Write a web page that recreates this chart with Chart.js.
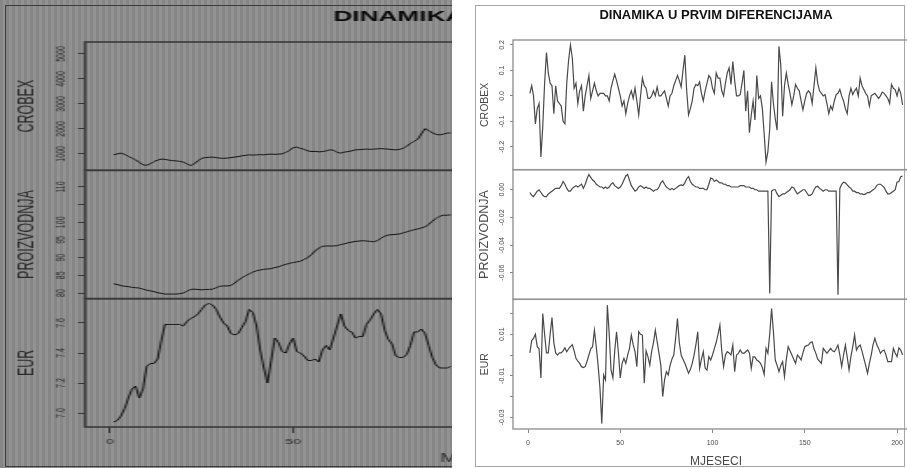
<!DOCTYPE html>
<html>
<head>
<meta charset="utf-8">
<script src="https://cdn.jsdelivr.net/npm/chart.js@4.4.1/dist/chart.umd.min.js"></script>
<style>
  html, body { margin: 0; padding: 0; background: #fff; }
  body { width: 907px; height: 468px; position: relative; overflow: hidden; }
  #levels { position: absolute; left: 0; top: 0; width: 452px; height: 468px; overflow: hidden;
    background: repeating-linear-gradient(90deg, #868686 0px, #868686 3px, #929292 3px, #929292 6px); }
  #levels canvas { position: absolute; left: 0; top: 0; transform: scaleX(1.75); transform-origin: 0 0; }
  #levels-frame { position: absolute; left: 5px; top: 5px; width: 520px; height: 462px; box-sizing: border-box; border: 1.5px solid #3c3c3c; }
  #diffs { position: absolute; left: 460px; top: 0; width: 447px; height: 468px; overflow: hidden; }
  #diffs canvas { position: absolute; left: 10px; top: 0; }
  #diffs-frame { position: absolute; left: 15px; top: 5px; width: 430px; height: 462px; box-sizing: border-box; border: 1.5px solid #a6a6a6; }
</style>
</head>
<body>
<div id="levels">
  <canvas id="levels-chart" width="555" height="468"></canvas>
  <div id="levels-frame"></div>
</div>
<div id="diffs">
  <div id="diffs-frame"></div>
  <canvas id="diffs-chart" width="492" height="468"></canvas>
</div>
<script>
// levels (left panel, only months 1-93 are visible in the picture)
const levelCrobex = [
  960, 1000, 1030, 980, 900, 830, 760, 660, 560, 540,
  600, 690, 750, 790, 780, 750, 730, 720, 700, 670,
  600, 530, 600, 720, 820, 850, 860, 870, 850, 830,
  820, 830, 850, 870, 890, 920, 940, 960, 950, 960,
  970, 960, 980, 990, 980, 990, 1000, 1060, 1130, 1250,
  1270, 1220, 1180, 1120, 1090, 1100, 1080, 1090, 1120, 1160,
  1150, 1060, 1030, 1070, 1090, 1120, 1160, 1170, 1180, 1190,
  1180, 1190, 1200, 1210, 1200, 1190, 1170, 1160, 1180, 1220,
  1300, 1420, 1500, 1580, 1800, 2010, 1940, 1840, 1780, 1760,
  1790, 1830, 1840
]
const levelProizvodnja = [
  82.6, 82.4, 82.1, 81.9, 81.8, 81.6, 81.5, 81.4, 81.1, 80.8,
  80.6, 80.4, 80.1, 79.9, 79.7, 79.7, 79.7, 79.7, 79.8, 80.0,
  80.5, 81.0, 81.1, 81.0, 80.9, 81.0, 81.0, 81.1, 81.5, 81.9,
  82.0, 82.0, 82.1, 82.8, 83.6, 84.3, 84.9, 85.4, 85.9, 86.3,
  86.5, 86.7, 86.8, 86.9, 87.2, 87.4, 87.8, 88.1, 88.4, 88.6,
  88.8, 89.0, 89.5, 90.0, 90.9, 91.9, 92.7, 93.2, 93.3, 93.3,
  93.3, 93.4, 93.7, 93.9, 94.2, 94.4, 94.6, 94.7, 94.8, 94.7,
  94.6, 94.5, 94.8, 95.5, 96.1, 96.4, 96.5, 96.6, 96.7, 97.0,
  97.3, 97.6, 97.9, 98.1, 98.4, 98.7, 99.4, 100.3, 101.1, 101.7,
  102.0, 102.0, 102.1
]
const levelEur = [
  6.94, 6.95, 6.98, 7.03, 7.10, 7.16, 7.18, 7.10, 7.16, 7.31,
  7.33, 7.33, 7.36, 7.48, 7.59, 7.59, 7.59, 7.59, 7.59, 7.58,
  7.61, 7.63, 7.64, 7.66, 7.69, 7.72, 7.73, 7.72, 7.69, 7.64,
  7.60, 7.58, 7.53, 7.52, 7.53, 7.57, 7.61, 7.69, 7.67, 7.58,
  7.42, 7.30, 7.20, 7.35, 7.50, 7.47, 7.41, 7.40, 7.46, 7.50,
  7.41, 7.40, 7.38, 7.35, 7.35, 7.36, 7.34, 7.42, 7.45, 7.42,
  7.50, 7.58, 7.66, 7.58, 7.55, 7.54, 7.50, 7.51, 7.51, 7.59,
  7.62, 7.66, 7.69, 7.66, 7.55, 7.49, 7.46, 7.38, 7.37, 7.37,
  7.39, 7.45, 7.54, 7.54, 7.56, 7.53, 7.45, 7.37, 7.32, 7.30,
  7.30, 7.30, 7.31
]

// first differences (right panel)
const diffCrobex = [
  0.01, 0.04, 0.0, -0.11, -0.05, -0.03, -0.24, -0.12, 0.05, 0.17,
  0.09, 0.05, 0.04, -0.07, 0.04, -0.02, -0.03, -0.04, -0.10, -0.11,
  0.05, 0.14, 0.20, 0.15, 0.03, 0.05, -0.03, 0.02, 0.04, -0.06,
  0.0, 0.04, 0.08, -0.01, 0.02, 0.05, 0.02, 0.0, 0.01, 0.01,
  0.01, 0.0, 0.0, -0.02, 0.03, 0.06, 0.085, 0.06, 0.03, 0.0,
  -0.04, -0.02, -0.07, -0.03, 0.0, 0.02, -0.01, 0.03, -0.02, -0.075,
  0.0, 0.07, 0.04, 0.03, -0.01, -0.01, 0.0, 0.02, 0.0, 0.035,
  0.0, 0.0, 0.01, 0.02, -0.01, -0.04, 0.0, 0.01, 0.04, 0.06,
  0.08, 0.06, 0.035, 0.10, 0.16, 0.02, -0.075, -0.05, -0.02, 0.03,
  0.045, 0.04, 0.055, 0.01, -0.02, 0.02, 0.05, 0.08, 0.07, 0.03,
  0.01, 0.09, 0.07, 0.07, 0.02, 0.0, 0.05, 0.09, 0.11, 0.045,
  0.135, 0.06, 0.0, 0.0, 0.005, 0.05, 0.10, -0.06, 0.02, -0.145,
  -0.075, -0.02, -0.095, 0.08, -0.01, 0.0, -0.05, -0.15, -0.26, -0.22,
  -0.13, 0.055, -0.03, -0.09, -0.135, 0.195, 0.12, -0.08, 0.04, 0.09,
  0.045, 0.01, -0.035, 0.0, 0.045, 0.03, 0.02, -0.02, -0.055, -0.02,
  0.01, 0.02, 0.01, -0.03, 0.04, 0.11, 0.05, 0.02, 0.01, 0.0,
  0.005, -0.03, -0.07, -0.04, -0.055, -0.02, 0.005, 0.01, 0.025, 0.0,
  -0.02, -0.05, -0.07, 0.0, 0.03, 0.005, 0.02, 0.03, 0.0, 0.07,
  0.04, 0.025, 0.01, 0.0, -0.04, 0.0, 0.005, 0.01, 0.0, -0.01,
  0.0, 0.015, 0.01, 0.0, -0.01, -0.03, 0.045, 0.03, 0.025, 0.0,
  0.03, 0.01, -0.035
]
const diffProizvodnja = [
  -0.002, -0.004, -0.005, -0.003, -0.001, 0.000, -0.002, -0.004, -0.005, -0.005,
  -0.003, -0.002, -0.001, 0.000, 0.001, 0.001, 0.001, 0.003, 0.006, 0.004,
  0.001, -0.001, -0.001, 0.001, 0.002, 0.003, 0.002, 0.003, 0.004, 0.001,
  0.004, 0.008, 0.011, 0.009, 0.007, 0.006, 0.004, 0.003, 0.002, 0.002,
  0.001, 0.002, 0.001, 0.002, 0.004, 0.005, 0.003, 0.002, 0.001, 0.002,
  0.004, 0.007, 0.010, 0.011, 0.007, 0.003, 0.001, -0.001, 0.000, 0.002,
  0.003, 0.002, 0.001, 0.002, 0.001, 0.001, 0.000, -0.001, 0.000, 0.000,
  0.002, 0.005, 0.0065, 0.004, 0.002, 0.001, 0.000, 0.001, 0.000, 0.001,
  0.002, 0.003, 0.0035, 0.003, 0.005, 0.008, 0.0095, 0.006, 0.004, 0.003,
  0.002, 0.002, 0.001, 0.001, 0.001, 0.000, 0.000, 0.004, 0.0085, 0.008,
  0.006, 0.007, 0.006, 0.005, 0.005, 0.004, 0.004, 0.003, 0.003, 0.002,
  0.002, 0.002, 0.002, 0.002, 0.003, 0.003, 0.003, 0.002, 0.002, 0.002,
  0.001, 0.001, 0.000, 0.000, -0.001, -0.001, -0.001, -0.001, -0.001, -0.001,
  -0.075, -0.001, 0.000, 0.000, -0.003, -0.005, -0.004, -0.003, -0.003, -0.002,
  -0.001, 0.000, 0.002, 0.0015, -0.001, -0.003, -0.002, -0.001, 0.000, 0.000,
  -0.002, -0.004, -0.004, -0.003, 0.000, 0.002, 0.0025, 0.001, 0.000, -0.001,
  0.000, 0.000, -0.001, -0.001, -0.001, -0.001, -0.001, -0.076, 0.001, 0.004,
  0.0055, 0.005, 0.0035, 0.002, 0.001, -0.001, -0.001, -0.002, -0.002, -0.003,
  -0.003, -0.0035, -0.003, -0.002, -0.002, -0.001, 0.000, 0.001, 0.003, 0.004,
  0.004, 0.003, 0.0017, -0.001, -0.003, -0.003, -0.002, -0.001, 0.000, 0.0055,
  0.006, 0.0095, 0.010
]
const diffEur = [
  0.001, 0.007, 0.008, 0.010, 0.004, 0.003, -0.011, 0.020, 0.010, 0.001,
  0.001, 0.010, 0.018, 0.006, 0.001, 0.000, 0.001, 0.001, 0.002, 0.0035,
  0.0016, 0.003, 0.004, 0.005, 0.002, -0.0016, -0.003, -0.004, -0.0056, -0.006,
  -0.0056, -0.003, 0.000, 0.003, 0.004, 0.012, 0.004, -0.005, -0.016, -0.033,
  -0.0096, -0.012, 0.024, 0.0104, -0.0072, -0.011, 0.002, 0.0112, 0.001, -0.011,
  -0.004, -0.0016, -0.004, 0.000, 0.0032, 0.0096, 0.005, 0.0016, -0.0056, 0.0112,
  0.010, 0.0096, -0.0136, 0.002, -0.0008, -0.0048, 0.0016, 0.006, 0.012, 0.0064,
  0.0008, -0.005, -0.020, -0.012, -0.008, -0.0096, -0.005, -0.002, 0.000, 0.008,
  0.0176, 0.006, 0.000, -0.002, -0.004, -0.0064, -0.0088, -0.007, -0.004, 0.000,
  0.005, 0.0112, -0.0064, -0.002, 0.0016, -0.0064, -0.0072, -0.0008, -0.0024, 0.000,
  0.0032, 0.006, 0.010, 0.0144, 0.002, -0.0056, 0.000, 0.0016, 0.001, 0.000,
  0.0048, -0.008, 0.000, 0.0008, 0.0024, 0.001, 0.0008, 0.0016, 0.0024, 0.001,
  -0.0064, -0.0008, -0.001, -0.0024, -0.003, -0.004, -0.006, -0.0093, 0.0032, 0.0008,
  0.010, 0.0224, 0.0112, -0.0024, -0.005, -0.008, -0.005, -0.0032, -0.0104, -0.002,
  0.004, 0.002, 0.000, -0.002, -0.004, 0.000, -0.001, -0.0024, 0.001, 0.004,
  0.0045, 0.0048, 0.006, 0.0064, 0.003, 0.0008, -0.002, -0.003, -0.004, 0.0032,
  0.002, 0.0008, 0.002, 0.0032, 0.002, 0.0016, 0.003, 0.0048, 0.000, -0.0056,
  0.000, 0.0048, -0.001, -0.0072, -0.0008, 0.004, 0.0096, 0.0024, 0.004, 0.0048,
  0.002, -0.0016, -0.005, -0.0088, -0.004, 0.000, 0.005, 0.008, 0.005, 0.0032,
  0.0008, 0.002, 0.0024, 0.000, -0.0032, -0.0032, -0.0032, 0.0032, 0.001, -0.0008,
  0.0035, 0.0024, 0.000
]

// tick values and labels
const monthTicks = [0, 50, 100, 150, 200]
const monthLabels = ['0', '50', '100', '150', '200']
const crobexLevelTicks = [1000, 2000, 3000, 4000, 5000]
const crobexLevelLabels = ['1000', '2000', '3000', '4000', '5000']
const proizLevelTicks = [80, 85, 90, 95, 100, 105, 110]
const proizLevelLabels = ['80', '85', '90', '95', '100', '', '110']
const eurLevelTicks = [7.0, 7.2, 7.4, 7.6]
const eurLevelLabels = ['7.0', '7.2', '7.4', '7.6']
const crobexDiffTicks = [-0.2, -0.1, 0, 0.1, 0.2]
const crobexDiffLabels = ['-0.2', '-0.1', '0.0', '0.1', '0.2']
const proizDiffTicks = [-0.06, -0.04, -0.02, 0]
const proizDiffLabels = ['-0.06', '-0.04', '-0.02', '0.00']
const eurDiffTicks = [-0.03, -0.02, -0.01, 0, 0.01, 0.02]
const eurDiffLabels = ['-0.03', '', '-0.01', '', '0.01', '']

const FONT = "'Liberation Sans', Arial, sans-serif"

function points(values) {
  return values.map((v, i) => ({ x: i + 1, y: v }))
}

// box around every stacked sub-panel
const panelFrame = {
  id: 'panelFrame',
  afterDatasetsDraw(chart, args, opts) {
    const { ctx, chartArea } = chart
    ctx.save()
    ctx.strokeStyle = opts.color
    ctx.lineWidth = opts.width
    for (const id of opts.axes) {
      const s = chart.scales[id]
      ctx.strokeRect(chartArea.left, s.top, chartArea.right - chartArea.left, s.bottom - s.top)
    }
    ctx.restore()
  }
}

function yAxis(min, max, ticks, labels, title, o) {
  return {
    type: 'linear', position: 'left', stack: 'panels', stackWeight: 1,
    min: min, max: max,
    afterBuildTicks: s => { s.ticks = ticks.map(v => ({ value: v })) },
    afterFit: s => { s.width = o.width },
    grid: { display: true, drawOnChartArea: false, drawTicks: true, tickLength: o.tick, color: o.line, lineWidth: 1 },
    border: { display: false },
    ticks: {
      autoSkip: false, minRotation: 90, maxRotation: 90, crossAlign: 'center',
      padding: o.pad, color: o.text, font: { family: FONT, size: 7 },
      callback: (v, i) => labels[i]
    },
    title: {
      display: true, text: title, color: o.text,
      font: { family: FONT, size: o.titleSize, lineHeight: 1.2 },
      padding: { top: o.titlePad, bottom: 0 }
    }
  }
}

function xAxis(min, max, o) {
  return {
    type: 'linear', position: 'bottom', min: min, max: max,
    afterBuildTicks: s => { s.ticks = monthTicks.map(v => ({ value: v })) },
    afterFit: s => { s.height = o.height },
    grid: { display: true, drawOnChartArea: false, drawTicks: true, tickLength: o.tick, color: o.line, lineWidth: 1 },
    border: { display: false },
    ticks: {
      autoSkip: false, maxRotation: 0, padding: o.pad, color: o.text,
      font: { family: FONT, size: o.labelSize },
      callback: (v, i) => monthLabels[i]
    },
    title: {
      display: true, text: 'MJESECI', color: o.text,
      font: { family: FONT, size: 12, lineHeight: 1 },
      padding: { top: 0, bottom: o.titlePad }
    }
  }
}

function spacer(width) {
  return {
    type: 'linear', position: 'right', display: true,
    afterFit: s => { s.width = width },
    grid: { display: false }, border: { display: false }, ticks: { display: false }
  }
}

function line(values, axis, color, width) {
  return {
    data: points(values), yAxisID: axis, borderColor: color, borderWidth: width,
    pointRadius: 0, tension: 0, fill: false
  }
}

const levelStyle = { width: 48.6, tick: 4, line: '#333', text: '#2b2b2b', titleSize: 12.5 }

// left-side stacks are laid out in reverse order, so the bottom panel comes first
new Chart(document.getElementById('levels-chart'), {
  type: 'line',
  data: {
    datasets: [
      line(levelCrobex, 'y1', '#101010', 1.0),
      line(levelProizvodnja, 'y2', '#101010', 1.0),
      line(levelEur, 'y3', '#101010', 1.0)
    ]
  },
  options: {
    responsive: false,
    animation: false,
    events: [],
    layout: { padding: 0 },
    scales: {
      x: xAxis(-6.8, 211.9, { height: 41, tick: 6, line: '#333', text: '#2b2b2b', pad: 4.2, labelSize: 8, titlePad: 3 }),
      pad: spacer(48.6),
      y3: yAxis(6.907, 7.762, eurLevelTicks, eurLevelLabels, 'EUR', { ...levelStyle, pad: 4.3, titlePad: 8.2 }),
      y2: yAxis(78.4, 114.7, proizLevelTicks, proizLevelLabels, 'PROIZVODNJA', { ...levelStyle, pad: 3.3, titlePad: 8.2 }),
      y1: yAxis(340, 5480, crobexLevelTicks, crobexLevelLabels, 'CROBEX', { ...levelStyle, pad: 1.4, titlePad: 8.2 })
    },
    plugins: {
      legend: { display: false },
      tooltip: { enabled: false },
      title: {
        display: true, text: 'DINAMIKA U RAZINAMA', color: '#0a0a0a',
        font: { family: FONT, size: 15, weight: 'bold', lineHeight: 1.2 },
        padding: { top: 7.7, bottom: 16.3 }
      },
      panelFrame: { axes: ['y1', 'y2', 'y3'], color: '#3a3a3a', width: 1.6 }
    }
  },
  plugins: [panelFrame]
})

const diffStyle = { width: 43, tick: 3, line: '#8a8a8a', text: '#4a4a4a' }

new Chart(document.getElementById('diffs-chart'), {
  type: 'line',
  data: {
    datasets: [
      line(diffCrobex, 'y1', '#4a4a4a', 1.2),
      line(diffProizvodnja, 'y2', '#4a4a4a', 1.2),
      line(diffEur, 'y3', '#4a4a4a', 1.2)
    ]
  },
  options: {
    responsive: false,
    animation: false,
    events: [],
    layout: { padding: 0 },
    scales: {
      x: xAxis(-8.13, 211.9, { height: 39, tick: 4, line: '#8a8a8a', text: '#4a4a4a', pad: 5.8, labelSize: 7, titlePad: 0 }),
      pad: spacer(43),
      y3: yAxis(-0.0356, 0.0268, eurDiffTicks, eurDiffLabels, 'EUR', { ...diffStyle, pad: 0.3, titleSize: 10.5, titlePad: 8.7 }),
      y2: yAxis(-0.0793, 0.01455, proizDiffTicks, proizDiffLabels, 'PROIZVODNJA', { ...diffStyle, pad: 0.3, titleSize: 12.5, titlePad: 7.5 }),
      y1: yAxis(-0.29, 0.2196, crobexDiffTicks, crobexDiffLabels, 'CROBEX', { ...diffStyle, pad: 2.3, titleSize: 10.5, titlePad: 8.7 })
    },
    plugins: {
      legend: { display: false },
      tooltip: { enabled: false },
      title: {
        display: true, text: 'DINAMIKA U PRVIM DIFERENCIJAMA', color: '#111',
        font: { family: FONT, size: 13, weight: 'bold', lineHeight: 1.2 },
        padding: { top: 7.2, bottom: 17.2 }
      },
      panelFrame: { axes: ['y1', 'y2', 'y3'], color: '#949494', width: 1.4 }
    }
  },
  plugins: [panelFrame]
})
</script>
</body>
</html>
